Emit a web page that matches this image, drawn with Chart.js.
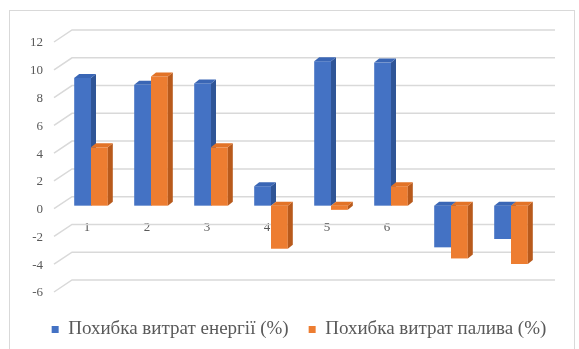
<!DOCTYPE html>
<html>
<head>
<meta charset="utf-8">
<script src="https://cdn.jsdelivr.net/npm/chart.js@4.4.1/dist/chart.umd.min.js"></script>
<style>
  html, body { margin: 0; padding: 0; background: #ffffff; }
  #wrap { position: relative; width: 579px; height: 349px; }
  canvas { position: absolute; left: 0; top: 0; }
</style>
</head>
<body>
<div id="wrap"><canvas id="chart" width="579" height="349"></canvas></div>
<script>
// Categories along the x axis
const categories = ['1', '2', '3', '4', '5', '6', '7', '8'];
// Error of energy consumption, %
const energyError = [9.2, 8.7, 8.8, 1.4, 10.4, 10.3, -3.0, -2.4];
// Error of fuel consumption, %
const fuelError = [4.2, 9.3, 4.2, -3.1, -0.3, 1.4, -3.8, -4.2];
// Value axis range and step
const yMin = -6;
const yMax = 12;
const yStep = 2;

const seriesNames = ['Похибка витрат енергії (%)', 'Похибка витрат палива (%)'];
const faceColors = [
  { front: '#4472C4', side: '#2F5597', top: '#3A66B5' },
  { front: '#ED7D31', side: '#B85A1C', top: '#E27327' }
];

const textGray = '#595959';
const gridGray = '#D9D9D9';
const serif = 'Liberation Serif';

// Depth of the back wall and of the columns (pseudo 3-D look)
const WALL_DX = 18, WALL_DY = 13;
const BAR_SHIFT_X = 4, BAR_SHIFT_Y = -4;
const BAR_DX = 5, BAR_DY = 4;

const frame = {
  id: 'frame',
  beforeDraw(chart) {
    const ctx = chart.ctx;
    ctx.save();
    ctx.strokeStyle = gridGray;
    ctx.lineWidth = 1;
    ctx.strokeRect(9.5, 10.5, 565, 345);
    ctx.restore();
  }
};

// Gridlines on the back wall with the short diagonal on the side wall
const wallGrid = {
  id: 'wallGrid',
  beforeDatasetsDraw(chart) {
    const ctx = chart.ctx;
    const y = chart.scales.y;
    const { left, right } = chart.chartArea;
    ctx.save();
    ctx.strokeStyle = gridGray;
    ctx.lineWidth = 1.5;
    for (let v = yMin; v <= yMax; v += yStep) {
      const py = y.getPixelForValue(v);
      ctx.beginPath();
      ctx.moveTo(left - 3, py - 1);
      ctx.lineTo(left - 3 + WALL_DX, py - WALL_DY);
      ctx.lineTo(right + WALL_DX, py - WALL_DY);
      ctx.stroke();
    }
    ctx.restore();
  }
};

// Columns with a side and a top face, drawn category by category
// in place of the flat default bars
const columns3d = {
  id: 'columns3d',
  beforeDatasetsDraw(chart) {
    const ctx = chart.ctx;
    const metas = [chart.getDatasetMeta(0), chart.getDatasetMeta(1)];
    ctx.save();
    ctx.translate(BAR_SHIFT_X, BAR_SHIFT_Y);
    for (let i = 0; i < categories.length; i++) {
      metas.forEach((meta, d) => {
        const el = meta.data[i];
        const { x, y, base, width } = el.getProps(['x', 'y', 'base', 'width'], true);
        const l = x - width / 2, r = x + width / 2;
        const t = Math.min(y, base), b = Math.max(y, base);
        const c = faceColors[d];
        ctx.fillStyle = c.front;
        ctx.fillRect(l, t, width, b - t);
        ctx.fillStyle = c.side;
        ctx.beginPath();
        ctx.moveTo(r, t);
        ctx.lineTo(r + BAR_DX, t - BAR_DY);
        ctx.lineTo(r + BAR_DX, b - BAR_DY);
        ctx.lineTo(r, b);
        ctx.closePath();
        ctx.fill();
        ctx.fillStyle = c.top;
        ctx.beginPath();
        ctx.moveTo(l, t);
        ctx.lineTo(l + BAR_DX, t - BAR_DY);
        ctx.lineTo(r + BAR_DX, t - BAR_DY);
        ctx.lineTo(r, t);
        ctx.closePath();
        ctx.fill();
      });
    }
    ctx.restore();
    return false;
  }
};

new Chart(document.getElementById('chart'), {
  type: 'bar',
  data: {
    labels: categories,
    datasets: [
      { label: seriesNames[0], data: energyError, backgroundColor: faceColors[0].front,
        borderWidth: 0, categoryPercentage: 0.56, barPercentage: 1.0 },
      { label: seriesNames[1], data: fuelError, backgroundColor: faceColors[1].front,
        borderWidth: 0, categoryPercentage: 0.56, barPercentage: 1.0 }
    ]
  },
  options: {
    responsive: false,
    animation: false,
    devicePixelRatio: 1,
    layout: { padding: { left: 19, right: 0, top: 43, bottom: 0 } },
    plugins: {
      legend: {
        position: 'bottom',
        labels: {
          boxWidth: 7,
          boxHeight: 7,
          padding: 20,
          color: textGray,
          font: { family: serif, size: 19 }
        }
      },
      tooltip: { enabled: false }
    },
    scales: {
      x: {
        position: { y: 0 },
        grid: { display: false, drawTicks: false },
        border: { display: false },
        ticks: { color: textGray, font: { family: serif, size: 13 }, padding: 10 }
      },
      // empty band between the plot and the legend
      xPad: {
        type: 'category',
        position: 'bottom',
        display: true,
        grid: { display: false, drawTicks: false },
        border: { display: false },
        ticks: { display: false },
        afterFit(s) { s.height = 7; }
      },
      y: {
        min: yMin,
        max: yMax,
        grid: { display: false, drawTicks: false },
        border: { display: false },
        ticks: { stepSize: yStep, color: textGray, font: { family: serif, size: 13 }, padding: 14 },
        afterFit(s) { s.width = 38; }
      },
      yRight: {
        position: 'right',
        display: true,
        min: yMin,
        max: yMax,
        grid: { display: false, drawTicks: false },
        border: { display: false },
        ticks: { display: false },
        afterFit(s) { s.width = 42; }
      }
    }
  },
  plugins: [frame, wallGrid, columns3d]
});
</script>
</body>
</html>
